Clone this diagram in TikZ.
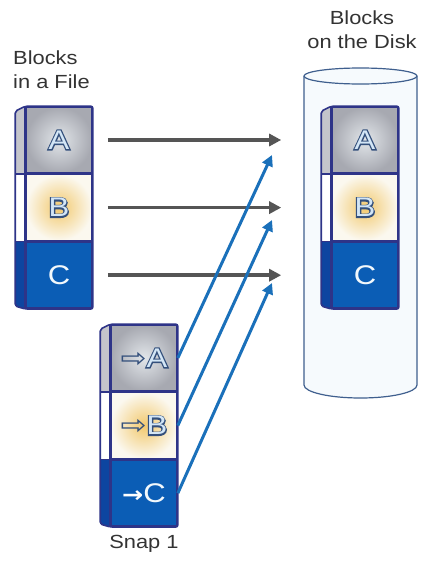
\documentclass[tikz,border=0pt]{standalone}
\usepackage{fontspec}
\setmainfont{Liberation Sans}[FakeStretch=1.15]
\newfontfamily\heavyfont{Liberation Sans}[FakeStretch=1.15, FakeBold=9]
\newfontfamily\arrowfont{DejaVu Sans}[FakeStretch=1.15]
\usetikzlibrary{positioning,arrows.meta}

\definecolor{blockline}{HTML}{2E3488}
\definecolor{grayface}{HTML}{A7A9B1}
\definecolor{grayglow}{HTML}{E2E6EA}
\definecolor{grayside}{HTML}{C4C5CB}
\definecolor{creamface}{HTML}{FBF8EF}
\definecolor{creamglow}{HTML}{F2C96E}
\definecolor{blueface}{HTML}{0B5DB5}
\definecolor{blueside}{HTML}{0D45A0}
\definecolor{letterfill}{HTML}{D3E6F6}
\definecolor{letterline}{HTML}{34507C}
\definecolor{arrowgray}{HTML}{555555}
\definecolor{arrowblue}{HTML}{1A70BA}
\definecolor{diskline}{HTML}{3F5F8E}
\definecolor{diskfill}{HTML}{F6FAFD}
\definecolor{labeltext}{HTML}{333333}

% light letter with a dark rim
\newcommand{\rimletter}[1]{\makebox[0pt][l]{\textcolor{letterline}{\heavyfont #1}}#1}

\begin{document}
\begin{tikzpicture}[x=1pt, y=-1pt,
    every node/.style={font=\fontsize{19}{24}\selectfont, inner sep=0pt, text=labeltext},
    block/.style={minimum width=66pt, minimum height=66pt, draw=blockline, line width=1.6pt, font=\fontsize{27}{27}\selectfont},
    blockA/.style={block, inner color=grayglow, outer color=grayface, text=letterfill},
    blockB/.style={block, inner color=creamglow, outer color=creamface, text=letterfill},
    blockC/.style={block, fill=blueface, text=letterfill!30!white},
    edge/.style={draw=blockline, line width=1.6pt, rounded corners=2pt},
    grayarrow/.style={draw=arrowgray, line width=3.5pt, -{Triangle[length=12pt,width=12pt]}, shorten <=15pt, shorten >=50pt},
    bluearrow/.style={draw=arrowblue, line width=3pt, -{Triangle[length=11pt,width=11pt]}}]
        \fill[white] (0,0) rectangle (422,562);
        \useasboundingbox (0,0) rectangle (422,562);

        % Disk cylinder
        \filldraw[draw=diskline, fill=diskfill, line width=1.2pt] (304,76) -- (304,385) arc[start angle=180, end angle=360, x radius=56.5pt, y radius=13pt] -- (417,76) arc[start angle=0, end angle=180, x radius=56.5pt, y radius=8pt] -- cycle;
        \draw[diskline, line width=1.2pt] (304,76) arc[start angle=180, end angle=360, x radius=56.5pt, y radius=8pt];

        % Labels
        \node[anchor=north west, align=left] (fileLabel) at (13,51) {Blocks\\in a File};
        \node[anchor=north, align=center] (diskLabel) at (362,11) {Blocks\\on the Disk};

        % Blocks in a File
        \node[blockA] (fileA) at (59,140) {\rimletter{A}};
        \node[blockB, below=0pt of fileA] (fileB) {\rimletter{B}};
        \node[blockC, below=0pt of fileB] (fileC) {C};
        \fill[grayside] ([shift={(-10,5)}]fileA.north west) -- (fileA.north west) -- (fileA.south west) -- ([xshift=-10pt]fileA.south west) -- cycle;
        \fill[white] ([xshift=-10pt]fileB.north west) rectangle (fileB.south west);
        \fill[blueside] ([xshift=-10pt]fileC.north west) -- (fileC.north west) -- (fileC.south west) -- ([shift={(-10,-3)}]fileC.south west) -- cycle;
        \draw[edge] ([shift={(-10,5)}]fileA.north west) -- (fileA.north west) -- (fileA.north east) -- (fileC.south east) -- (fileC.south west) -- ([shift={(-10,-3)}]fileC.south west) -- cycle;
        \draw[edge] ([xshift=-10pt]fileB.north west) -- (fileB.north west) ([xshift=-10pt]fileC.north west) -- (fileC.north west) (fileA.north west) -- (fileC.south west);

        % Blocks on the Disk
        \node[blockA] (diskA) at (365,140) {\rimletter{A}};
        \node[blockB, below=0pt of diskA] (diskB) {\rimletter{B}};
        \node[blockC, below=0pt of diskB] (diskC) {C};
        \fill[grayside] ([shift={(-10,5)}]diskA.north west) -- (diskA.north west) -- (diskA.south west) -- ([xshift=-10pt]diskA.south west) -- cycle;
        \fill[white] ([xshift=-10pt]diskB.north west) rectangle (diskB.south west);
        \fill[blueside] ([xshift=-10pt]diskC.north west) -- (diskC.north west) -- (diskC.south west) -- ([shift={(-10,-3)}]diskC.south west) -- cycle;
        \draw[edge] ([shift={(-10,5)}]diskA.north west) -- (diskA.north west) -- (diskA.north east) -- (diskC.south east) -- (diskC.south west) -- ([shift={(-10,-3)}]diskC.south west) -- cycle;
        \draw[edge] ([xshift=-10pt]diskB.north west) -- (diskB.north west) ([xshift=-10pt]diskC.north west) -- (diskC.north west) (diskA.north west) -- (diskC.south west);

        % Snap 1
        \node[blockA] (snapA) at (144,358) {{\arrowfont\color{letterline}⇨}\rimletter{A}};
        \node[blockB, below=0pt of snapA] (snapB) {{\arrowfont\color{letterline}⇨}\rimletter{B}};
        \node[blockC, below=0pt of snapB] (snapC) {{\arrowfont\fontsize{22}{22}\selectfont\bfseries\color{white}→}C};
        \fill[grayside] ([shift={(-10,5)}]snapA.north west) -- (snapA.north west) -- (snapA.south west) -- ([xshift=-10pt]snapA.south west) -- cycle;
        \fill[white] ([xshift=-10pt]snapB.north west) rectangle (snapB.south west);
        \fill[blueside] ([xshift=-10pt]snapC.north west) -- (snapC.north west) -- (snapC.south west) -- ([shift={(-10,-3)}]snapC.south west) -- cycle;
        \draw[edge] ([shift={(-10,5)}]snapA.north west) -- (snapA.north west) -- (snapA.north east) -- (snapC.south east) -- (snapC.south west) -- ([shift={(-10,-3)}]snapC.south west) -- cycle;
        \draw[edge] ([xshift=-10pt]snapB.north west) -- (snapB.north west) ([xshift=-10pt]snapC.north west) -- (snapC.north west) (snapA.north west) -- (snapC.south west);
        \node[below=8pt of snapC] (snapLabel) {Snap 1};

        % File blocks point to disk blocks
        \draw[grayarrow] (fileA.east) -- (diskA.west);
        \draw[grayarrow] (fileB.east) -- (diskB.west);
        \draw[grayarrow] (fileC.east) -- (diskC.west);

        % Snapshot pointers
        \coordinate (tipA) at (272,155);
        \coordinate (tipB) at (272,220);
        \coordinate (tipC) at (272,283);
        \draw[bluearrow] (snapA.east) -- (tipA);
        \draw[bluearrow] (snapB.east) -- (tipB);
        \draw[bluearrow] (snapC.east) -- (tipC);
    \end{tikzpicture}
\end{document}
